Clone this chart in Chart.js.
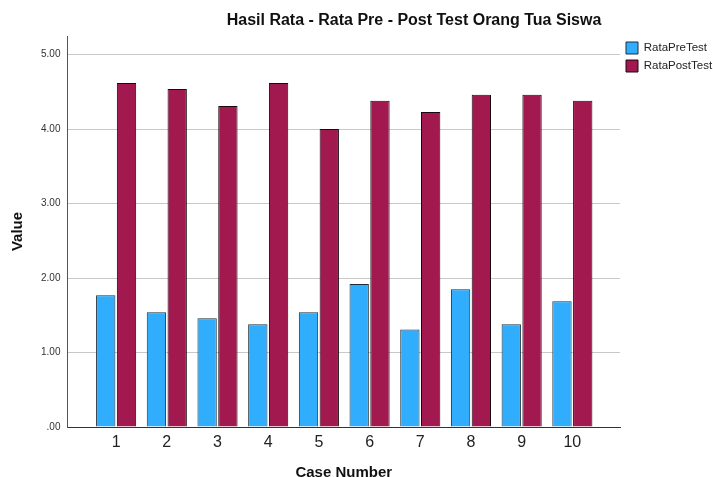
<!DOCTYPE html>
<html>
<head>
<meta charset="utf-8">
<script src="https://cdn.jsdelivr.net/npm/chart.js@4/dist/chart.umd.min.js"></script>
<style>
  html, body { margin: 0; padding: 0; background: #fff; }
  #wrap { width: 713px; height: 477px; }
</style>
</head>
<body>
<div id="wrap"><canvas id="chart" width="713" height="477"></canvas></div>
<script>
"use strict";

var caseNumbers = [1, 2, 3, 4, 5, 6, 7, 8, 9, 10];
var rataPreTest = [1.77, 1.54, 1.46, 1.38, 1.54, 1.92, 1.31, 1.85, 1.38, 1.69];
var rataPostTest = [4.62, 4.54, 4.31, 4.62, 4.00, 4.38, 4.23, 4.46, 4.46, 4.38];
var yTicks = [0, 1, 2, 3, 4, 5];

var chartTitle = "Hasil Rata - Rata Pre - Post Test Orang Tua Siswa";

function _points(values) {
    return values.map(function(v, i) {
        return { x: caseNumbers[i], y: v };
    });
}

// title sits off-centre in the original, so draw it by hand
var titlePlugin = {
    id: "offTitle",
    afterDraw: function(chart) {
        var ctx = chart.ctx;
        ctx.save();
        ctx.font = "bold 16px 'Liberation Sans', Arial, sans-serif";
        ctx.fillStyle = "#111";
        ctx.textAlign = "center";
        ctx.textBaseline = "middle";
        ctx.fillText(chartTitle, 414, 21);
        ctx.restore();
    }
};

Chart.defaults.font.family = "'Liberation Sans', Arial, sans-serif";
Chart.defaults.color = "#222";

new Chart(document.getElementById("chart"), {
    type: "bar",
    plugins: [titlePlugin],
    data: {
        datasets: [
            {
                label: "RataPreTest",
                data: _points(rataPreTest),
                backgroundColor: "#31adfd",
                borderColor: "#1c2f3c",
                borderWidth: 1,
                categoryPercentage: 0.82,
                barPercentage: 0.93
            },
            {
                label: "RataPostTest",
                data: _points(rataPostTest),
                backgroundColor: "#a1194f",
                borderColor: "#1a0a10",
                borderWidth: 1,
                categoryPercentage: 0.82,
                barPercentage: 0.93
            }
        ]
    },
    options: {
        responsive: false,
        animation: false,
        layout: {
            padding: { top: 36, left: 2, right: 0, bottom: -3 }
        },
        plugins: {
            title: { display: false },
            tooltip: { enabled: false },
            legend: {
                position: "right",
                align: "start",
                maxWidth: 93,
                labels: {
                    boxWidth: 12,
                    boxHeight: 12,
                    padding: 6,
                    color: "#222",
                    font: { size: 11.5 }
                }
            }
        },
        scales: {
            x: {
                type: "linear",
                offset: false,
                min: 0.04,
                max: 10.94,
                afterBuildTicks: function(scale) {
                    scale.ticks = caseNumbers.map(function(v) {
                        return { value: v };
                    });
                },
                grid: { display: false, drawTicks: false, tickLength: 0 },
                border: { display: true, color: "#333", width: 1 },
                ticks: {
                    padding: 8,
                    color: "#222",
                    font: { size: 16, lineHeight: 1 }
                },
                title: {
                    display: true,
                    text: "Case Number",
                    color: "#111",
                    font: { size: 15, weight: "bold", lineHeight: 1 },
                    padding: { top: 6, bottom: 0 }
                }
            },
            y: {
                min: 0,
                max: 5.25,
                afterBuildTicks: function(scale) {
                    scale.ticks = yTicks.map(function(v) {
                        return { value: v };
                    });
                },
                grid: {
                    color: "#c8c8c8",
                    drawTicks: false
                },
                border: { display: true, color: "#555", width: 1 },
                ticks: {
                    padding: 7,
                    color: "#333",
                    font: { size: 10 },
                    callback: function(v) {
                        return v === 0 ? ".00" : v.toFixed(2);
                    }
                },
                title: {
                    display: true,
                    text: "Value",
                    color: "#111",
                    font: { size: 15, weight: "bold" },
                    padding: { top: 7, bottom: 7 }
                }
            }
        }
    }
});
</script>
</body>
</html>
